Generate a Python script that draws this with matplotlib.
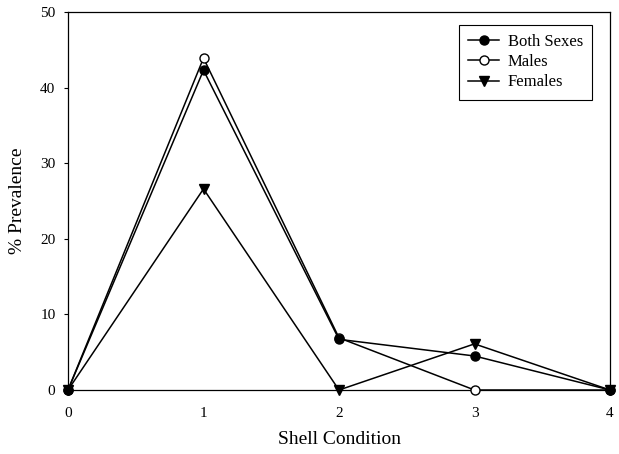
import matplotlib
matplotlib.use('Agg')
import matplotlib.pyplot as plt

plt.rcParams['font.family'] = ['Liberation Serif', 'DejaVu Serif']

shell = [0, 1, 2, 3, 4]
both = [0, 42.3, 6.7, 4.5, 0]
males = [0, 43.9, 6.9, 0, 0]
females = [0, 26.6, 0, 6.1, 0]

fig = plt.figure(figsize=(6.19, 4.54), dpi=100)
ax = fig.add_axes([68/619, 64/454, 542/619, 378/454])

ax.plot(shell, males, '-', color='black', lw=1.1, marker='o', ms=6.5,
        mfc='white', mec='black', label='Males', clip_on=False, zorder=3)
ax.plot(shell, females, '-', color='black', lw=1.1, marker='v', ms=6.5,
        mfc='black', mec='black', label='Females', clip_on=False, zorder=3)
ax.plot(shell, both, '-', color='black', lw=1.1, marker='o', ms=6.5,
        mfc='black', mec='black', label='Both Sexes', clip_on=False, zorder=4)

ax.set_xlim(0, 4)
ax.set_ylim(0, 50)
ax.set_xticks(shell)
ax.set_yticks([0, 10, 20, 30, 40, 50])
ax.tick_params(axis='y', direction='out', length=3, labelsize=11, pad=6)
ax.tick_params(axis='x', direction='out', length=0, labelsize=11, pad=12)
for s in ax.spines.values():
    s.set_linewidth(0.9)

ax.set_xlabel('Shell Condition', fontsize=14, labelpad=8)
ax.set_ylabel('% Prevalence', fontsize=14, labelpad=10)

h, l = ax.get_legend_handles_labels()
order = [2, 0, 1]
leg = ax.legend([h[i] for i in order], [l[i] for i in order],
                loc='upper right', bbox_to_anchor=(0.967, 0.966), borderaxespad=0,
                fontsize=12, fancybox=False, framealpha=1, edgecolor='black',
                handlelength=1.9, handletextpad=0.5, borderpad=0.55,
                labelspacing=0.25)
leg.get_frame().set_linewidth(0.8)

fig.savefig('out.png', dpi=100)
